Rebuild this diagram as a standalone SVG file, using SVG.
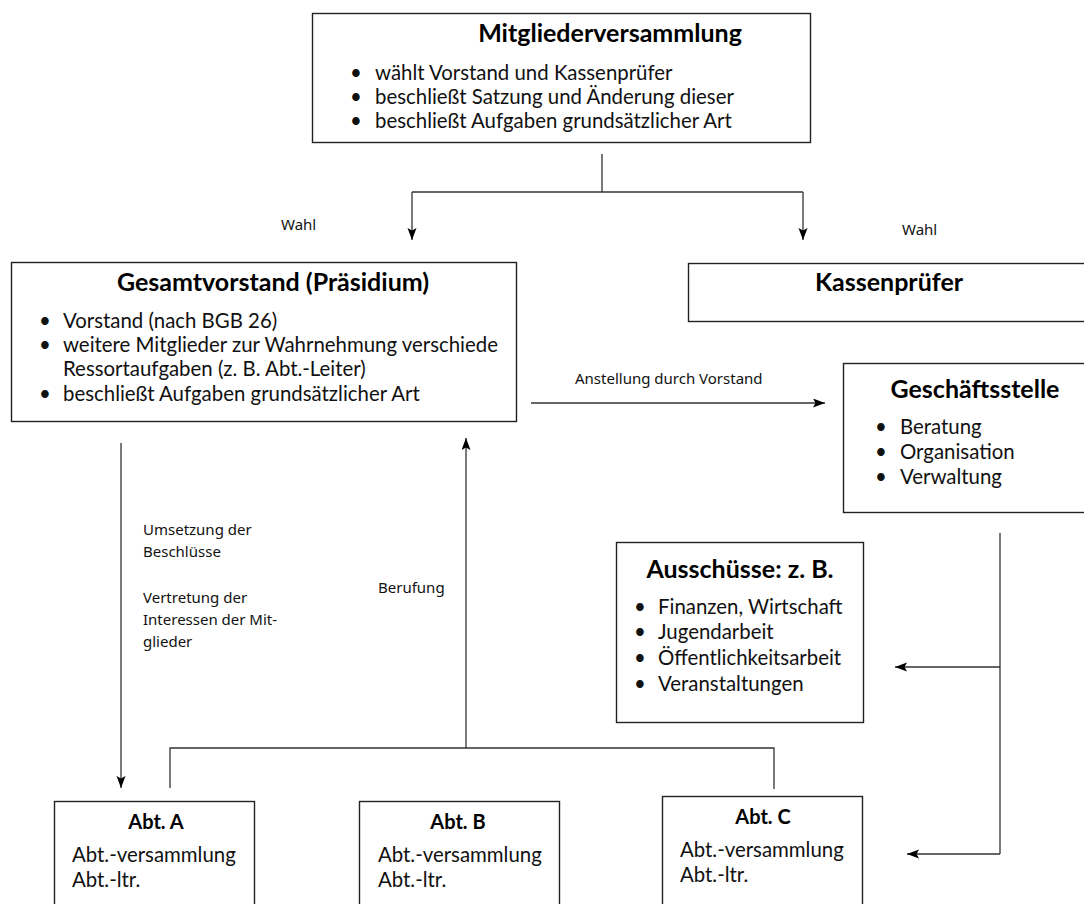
<svg xmlns="http://www.w3.org/2000/svg" width="1084" height="904" viewBox="0 0 1084 904">
  <style>
    .box { fill: #fff; stroke: #222; stroke-width: 1.4; }
    .title { font-family: Lato, "Open Sans", sans-serif; font-weight: bold; font-size: 25px; fill: #000; text-anchor: middle; }
    .sub { font-family: Lato, "Open Sans", sans-serif; font-weight: bold; font-size: 20px; fill: #000; text-anchor: middle; }
    .txt { font-family: Lato, "Open Sans", sans-serif; font-size: 20.4px; fill: #111; }
    .lbl { font-family: "Noto Sans", "DejaVu Sans", sans-serif; font-size: 15px; fill: #111; }
    .conn { fill: none; stroke: #333; stroke-width: 1.3; }
  </style>
  <defs>
    <marker id="arrow" markerUnits="userSpaceOnUse" markerWidth="13" markerHeight="10" refX="12" refY="4.5" orient="auto">
      <path d="M0,0 L12,4.5 L0,9 L2.5,4.5 Z" fill="#000"/>
    </marker>
  </defs>

  <rect width="1084" height="904" fill="#fff"/>

  <!-- connectors -->
  <g id="connectors">
    <path class="conn" d="M602,154 V192 M412,192 H803"/>
    <path class="conn" d="M412,192 V240" marker-end="url(#arrow)"/>
    <path class="conn" d="M803,192 V240" marker-end="url(#arrow)"/>
    <path class="conn" d="M531,403 H825" marker-end="url(#arrow)"/>
    <path class="conn" d="M121,443 V788" marker-end="url(#arrow)"/>
    <path class="conn" d="M466,748 V438" marker-end="url(#arrow)"/>
    <path class="conn" d="M170,788 V748 H774 V789"/>
    <path class="conn" d="M1000,533 V854"/>
    <path class="conn" d="M1000,667 H895" marker-end="url(#arrow)"/>
    <path class="conn" d="M1000,854 H907" marker-end="url(#arrow)"/>
    <text class="lbl" x="281" y="230">Wahl</text>
    <text class="lbl" x="902" y="235">Wahl</text>
    <text class="lbl" x="575" y="384">Anstellung durch Vorstand</text>
    <text class="lbl" x="143" y="535">Umsetzung der</text>
    <text class="lbl" x="143" y="557">Beschlüsse</text>
    <text class="lbl" x="143" y="603">Vertretung der</text>
    <text class="lbl" x="143" y="625">Interessen der Mit-</text>
    <text class="lbl" x="143" y="647">glieder</text>
    <text class="lbl" x="378" y="593">Berufung</text>
  </g>

  <!-- general assembly -->
  <g id="mitgliederversammlung">
    <rect class="box" x="312.5" y="13.5" width="498" height="129"/>
    <text class="title" x="610" y="42">Mitgliederversammlung</text>
    <text class="txt" x="350" y="80">•</text>
    <text class="txt" x="375" y="80">wählt Vorstand und Kassenprüfer</text>
    <text class="txt" x="350" y="104">•</text>
    <text class="txt" x="375" y="104">beschließt Satzung und Änderung dieser</text>
    <text class="txt" x="350" y="128">•</text>
    <text class="txt" x="375" y="128">beschließt Aufgaben grundsätzlicher Art</text>
  </g>

  <!-- board -->
  <g id="gesamtvorstand">
    <rect class="box" x="11.5" y="262.5" width="505" height="159"/>
    <text class="title" x="273" y="291">Gesamtvorstand (Präsidium)</text>
    <text class="txt" x="39" y="328">•</text>
    <text class="txt" x="63" y="328">Vorstand (nach BGB 26)</text>
    <text class="txt" x="39" y="352">•</text>
    <text class="txt" x="63" y="352">weitere Mitglieder zur Wahrnehmung verschiede</text>
    <text class="txt" x="63" y="376">Ressortaufgaben (z. B. Abt.-Leiter)</text>
    <text class="txt" x="39" y="401">•</text>
    <text class="txt" x="63" y="401">beschließt Aufgaben grundsätzlicher Art</text>
  </g>

  <!-- auditors -->
  <g id="kassenpruefer">
    <rect class="box" x="688.5" y="263.5" width="400" height="58"/>
    <text class="title" x="889" y="291">Kassenprüfer</text>
  </g>

  <!-- office -->
  <g id="geschaeftsstelle">
    <rect class="box" x="843.5" y="363.5" width="250" height="149"/>
    <text class="title" x="975" y="398">Geschäftsstelle</text>
    <text class="txt" x="875" y="434">•</text>
    <text class="txt" x="900" y="434">Beratung</text>
    <text class="txt" x="875" y="459">•</text>
    <text class="txt" x="900" y="459">Organisation</text>
    <text class="txt" x="875" y="484">•</text>
    <text class="txt" x="900" y="484">Verwaltung</text>
  </g>

  <!-- committees -->
  <g id="ausschuesse">
    <rect class="box" x="616.5" y="542.5" width="247" height="180"/>
    <text class="title" x="740" y="578">Ausschüsse: z. B.</text>
    <text class="txt" x="634" y="614">•</text>
    <text class="txt" x="658" y="614">Finanzen, Wirtschaft</text>
    <text class="txt" x="634" y="639">•</text>
    <text class="txt" x="658" y="639">Jugendarbeit</text>
    <text class="txt" x="634" y="665">•</text>
    <text class="txt" x="658" y="665">Öffentlichkeitsarbeit</text>
    <text class="txt" x="634" y="691">•</text>
    <text class="txt" x="658" y="691">Veranstaltungen</text>
  </g>

  <!-- departments -->
  <g id="abt-a">
    <rect class="box" x="54.5" y="801.5" width="200" height="120"/>
    <text class="sub" x="156" y="829">Abt. A</text>
    <text class="txt" x="72" y="862">Abt.-versammlung</text>
    <text class="txt" x="72" y="887">Abt.-ltr.</text>
  </g>
  <g id="abt-b">
    <rect class="box" x="359.5" y="801.5" width="200" height="120"/>
    <text class="sub" x="458" y="829">Abt. B</text>
    <text class="txt" x="378" y="862">Abt.-versammlung</text>
    <text class="txt" x="378" y="887">Abt.-ltr.</text>
  </g>
  <g id="abt-c">
    <rect class="box" x="662.5" y="796.5" width="200" height="125"/>
    <text class="sub" x="763" y="824">Abt. C</text>
    <text class="txt" x="680" y="857">Abt.-versammlung</text>
    <text class="txt" x="680" y="882">Abt.-ltr.</text>
  </g>
</svg>
